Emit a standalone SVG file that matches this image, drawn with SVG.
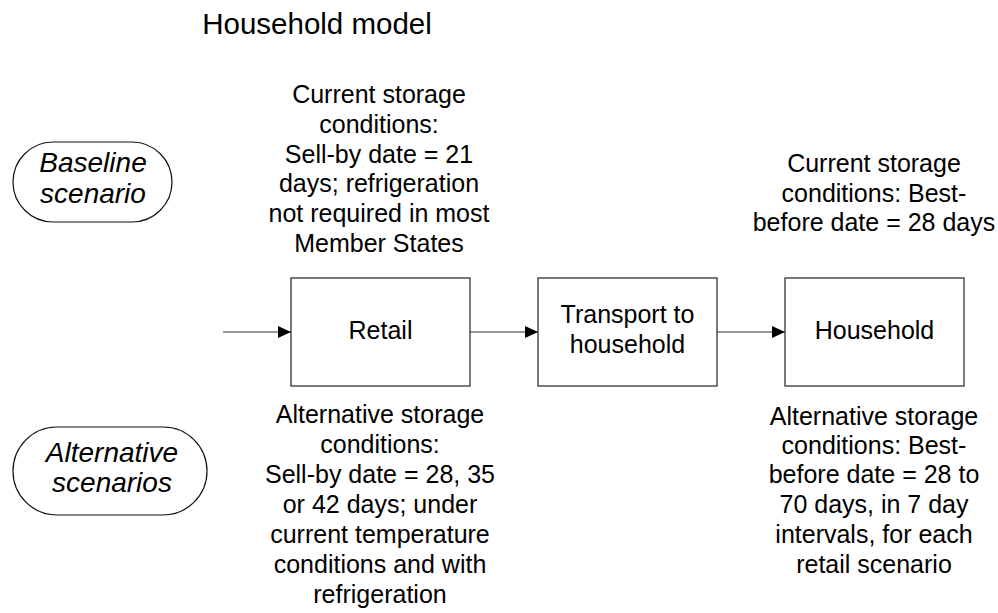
<svg xmlns="http://www.w3.org/2000/svg" width="998" height="613" viewBox="0 0 998 613">
<style>
text{font-family:"Liberation Sans",Arial,sans-serif;fill:#000;text-anchor:middle}
.ann{font-size:25px}
.lbl{font-size:25px}
.sc{font-size:28px;font-style:italic}
.box{fill:#fff;stroke:#222;stroke-width:1.2}
.pill{fill:#fff;stroke:#111;stroke-width:1.2}
.conn{stroke:#333;stroke-width:1.2;fill:none;marker-end:url(#ah)}
</style>
<defs>
<marker id="ah" markerWidth="13" markerHeight="12" refX="13" refY="6" orient="auto" markerUnits="userSpaceOnUse">
<path d="M0,0 L13,6 L0,12 Z" fill="#000"/>
</marker>
</defs>
<text x="317" y="34" style="font-size:29.5px">Household model</text>
<g id="baseline">
<rect class="pill" x="13" y="142" width="159" height="80" rx="40" ry="40"/>
<text class="sc" x="93" y="172">Baseline</text>
<text class="sc" x="93" y="203">scenario</text>
</g>
<g id="alternative">
<rect class="pill" x="13" y="427" width="194" height="88" rx="44" ry="44"/>
<text class="sc" x="112" y="462">Alternative</text>
<text class="sc" x="112" y="492">scenarios</text>
</g>
<g id="retail-current">
<text class="ann" x="379" y="103">Current storage</text>
<text class="ann" x="379" y="133">conditions:</text>
<text class="ann" x="379" y="163">Sell-by date = 21</text>
<text class="ann" x="379" y="192">days; refrigeration</text>
<text class="ann" x="379" y="222">not required in most</text>
<text class="ann" x="379" y="252">Member States</text>
</g>
<g id="household-current">
<text class="ann" x="874" y="172">Current storage</text>
<text class="ann" x="874" y="202">conditions: Best-</text>
<text class="ann" x="874" y="231">before date = 28 days</text>
</g>
<g id="retail-alt">
<text class="ann" x="380" y="423">Alternative storage</text>
<text class="ann" x="380" y="453">conditions:</text>
<text class="ann" x="380" y="483">Sell-by date = 28, 35</text>
<text class="ann" x="380" y="513">or 42 days; under</text>
<text class="ann" x="380" y="543">current temperature</text>
<text class="ann" x="380" y="573">conditions and with</text>
<text class="ann" x="380" y="603">refrigeration</text>
</g>
<g id="household-alt">
<text class="ann" x="874" y="425">Alternative storage</text>
<text class="ann" x="874" y="454">conditions: Best-</text>
<text class="ann" x="874" y="483">before date = 28 to</text>
<text class="ann" x="874" y="513">70 days, in 7 day</text>
<text class="ann" x="874" y="543">intervals, for each</text>
<text class="ann" x="874" y="573">retail scenario</text>
</g>
<g id="retail">
<rect class="box" x="291" y="278" width="179" height="108"/>
<text class="lbl" x="380.5" y="339">Retail</text>
</g>
<g id="transport">
<rect class="box" x="538" y="278" width="179" height="108"/>
<text class="lbl" x="627.5" y="323">Transport to</text>
<text class="lbl" x="627.5" y="353">household</text>
</g>
<g id="household">
<rect class="box" x="785" y="278" width="179" height="108"/>
<text class="lbl" x="874.5" y="339">Household</text>
</g>
<g id="connectors">
<line class="conn" x1="223" y1="332" x2="291" y2="332"/>
<line class="conn" x1="470" y1="332" x2="538" y2="332"/>
<line class="conn" x1="717" y1="332" x2="785" y2="332"/>
</g>
</svg>
